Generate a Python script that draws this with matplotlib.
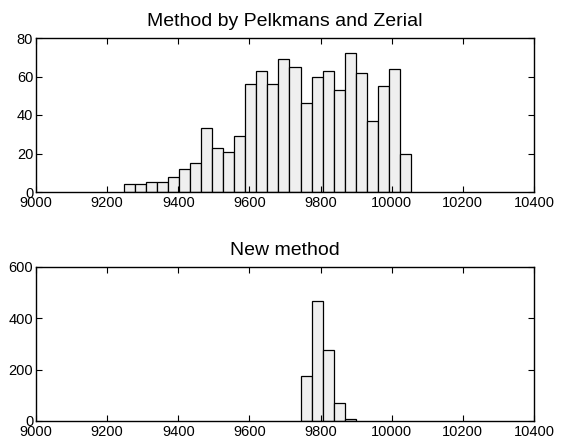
import matplotlib
matplotlib.use("Agg")
import matplotlib.pyplot as plt
import numpy as np

plt.rcParams['font.family'] = ['Liberation Sans', 'DejaVu Sans']

# Histogram bins (left edge of first bin and bin width)
bin_start = 9246.0
bin_width = 31.1

title_top = "Method by Pelkmans and Zerial"
counts_top = [4, 4, 5, 5, 8, 12, 15, 33, 23, 21, 29, 56, 63, 56, 69, 65,
              46, 60, 63, 53, 72, 62, 37, 55, 64, 20]
first_bin_top = 0

title_bottom = "New method"
counts_bottom = [177, 468, 278, 70, 9]
first_bin_bottom = 16

xticks = [9000, 9200, 9400, 9600, 9800, 10000, 10200, 10400]
yticks_top = [0, 20, 40, 60, 80]
yticks_bottom = [0, 200, 400, 600]

fig = plt.figure(figsize=(5.64, 4.43), dpi=100)
W, H = 564, 443

def make_ax(top_px, bottom_px):
    left, right = 36, 534
    return fig.add_axes([left / W, 1 - bottom_px / H, (right - left) / W, (bottom_px - top_px) / H])

ax1 = make_ax(38, 192)
ax2 = make_ax(267, 421)

def draw(ax, counts, first_bin, title, yticks):
    idx = np.arange(len(counts)) + first_bin
    lefts = bin_start + idx * bin_width
    ax.bar(lefts, counts, width=bin_width, align='edge', color='#efefef',
           edgecolor='black', linewidth=0.9)
    ax.set_xlim(9000, 10400)
    ax.set_ylim(yticks[0], yticks[-1])
    ax.set_xticks(xticks)
    ax.set_yticks(yticks)
    ax.tick_params(direction='in', top=True, right=True, length=4, width=0.8,
                   labelsize=10.5)
    ax.tick_params(axis='x', pad=3)
    ax.tick_params(axis='y', pad=2)
    for lbl in ax.get_yticklabels():
        lbl.set_verticalalignment('center_baseline')
    for s in ax.spines.values():
        s.set_linewidth(1.0)
    ax.set_title(title, fontsize=14, pad=8.5)

draw(ax1, counts_top, first_bin_top, title_top, yticks_top)
draw(ax2, counts_bottom, first_bin_bottom, title_bottom, yticks_bottom)

fig.savefig("out.png", dpi=100)
